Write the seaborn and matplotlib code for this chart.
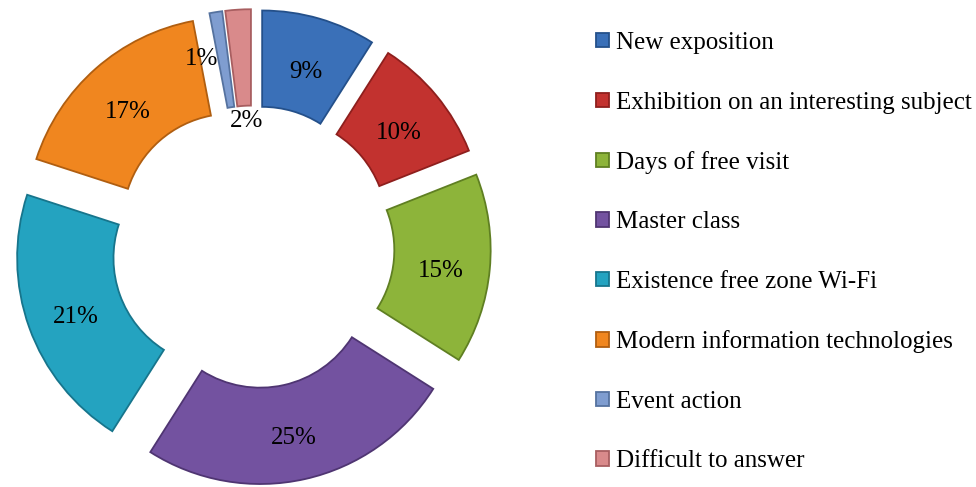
import matplotlib
matplotlib.use('Agg')
import matplotlib.pyplot as plt
import numpy as np
import seaborn as sns

sns.set_style(style='white')
plt.rcParams['font.family'] = ['Liberation Serif', 'DejaVu Serif']
plt.rcParams['text.color'] = 'black'

categories = ['New exposition', 'Exhibition on an interesting subject', 'Days of free visit',
              'Master class', 'Existence free zone Wi-Fi', 'Modern information technologies',
              'Event action', 'Difficult to answer']
shares = [9, 10, 15, 25, 21, 17, 1, 2]
colors = ['#3a70b8', '#c2322f', '#8db43a', '#7352a0', '#24a3c0', '#f0861f', '#7f9dd0', '#d98a8b']
edges = ['#24508a', '#8e1f1d', '#5f7f22', '#4f3572', '#17758c', '#b05e10', '#55729f', '#a85e60']

explode = 0.16
radius = 1.0
width = 0.47

fig = plt.figure(figsize=(9.76, 4.87), dpi=100)
px = 205.0  # pixels per data unit
ax = fig.add_axes([0, 0, 502 / 976, 1])
ax.axis('off')

wedges, _ = ax.pie(shares, colors=colors, startangle=90, counterclock=False,
                   explode=[explode] * len(shares), radius=radius,
                   wedgeprops=dict(width=width, linewidth=1.3),
                   frame=False)
for w, ec in zip(wedges, edges):
    w.set_edgecolor(ec)
ax.set_xlim(-253 / px, 249 / px)
ax.set_ylim(-240 / px, 247 / px)
ax.set_aspect('auto')

# percentage labels
dy = -0.02
for w, v in zip(wedges, shares):
    mid = np.deg2rad((w.theta1 + w.theta2) / 2)
    if v == 1:
        r = explode + 0.80
        ax.text(r * np.cos(mid) - 0.02, r * np.sin(mid) + dy, f'{v}%', ha='right',
                va='center_baseline', fontsize=18)
    elif v == 2:
        r = explode + 0.47
        ax.text(r * np.cos(mid) + 0.01, r * np.sin(mid), f'{v}%', ha='center',
                va='center_baseline', fontsize=18)
    else:
        r = explode + 0.76
        ax.text(r * np.cos(mid), r * np.sin(mid) + dy, f'{v}%', ha='center',
                va='center_baseline', fontsize=18)

fig.legend(wedges, categories, loc='upper left', bbox_to_anchor=(596 / 976, 1 - 32 / 487),
           frameon=False, fontsize=18, handlelength=0.5, handleheight=0.5,
           handletextpad=0.3, labelspacing=1.5, borderaxespad=0, borderpad=0)

fig.savefig('out.png', dpi=100)
plt.close(fig)
